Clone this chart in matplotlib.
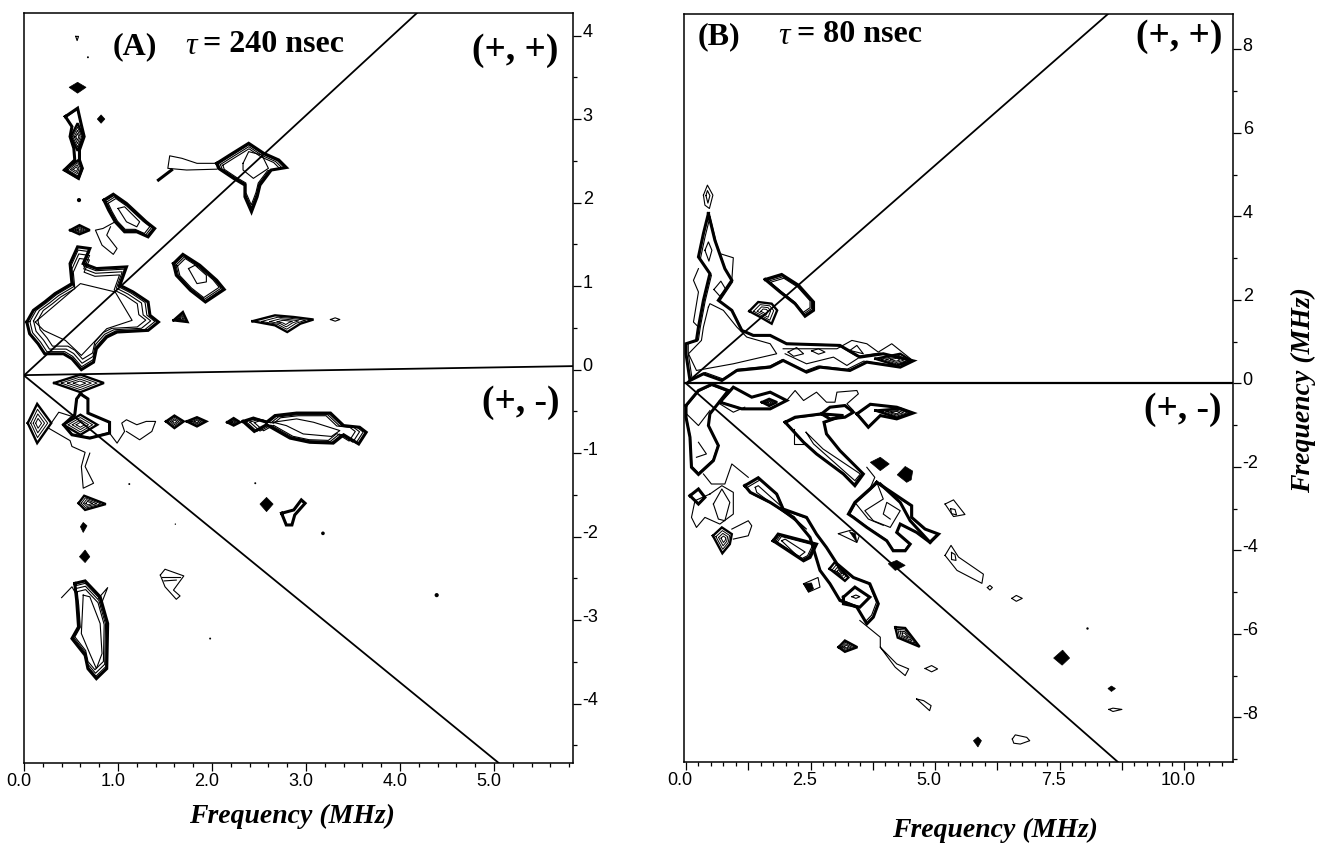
import numpy as np
import matplotlib
matplotlib.use("Agg")
import matplotlib.pyplot as plt
from matplotlib.transforms import ScaledTranslation

W, H = 1318, 844
SERIF = "Liberation Serif"
SANS = "Liberation Sans"

# ---- panel A, tau = 240 nsec (MHz, MHz) ----
A_MAIN = [(0.03, 0.57), (0.10, 0.71), (0.22, 0.81), (0.33, 0.91), (0.51, 1.03), (0.49, 1.27), (0.57, 1.47),
          (0.70, 1.45), (0.63, 1.27), (0.77, 1.21), (1.09, 1.23), (1.02, 1.01), (1.16, 0.93), (1.32, 0.81),
          (1.34, 0.65), (1.43, 0.57), (1.32, 0.47), (0.99, 0.45), (0.88, 0.39), (0.77, 0.25), (0.74, 0.09),
          (0.61, 0.0), (0.51, 0.13), (0.42, 0.19), (0.22, 0.19), (0.15, 0.31), (0.06, 0.43)]
A_PEAK = [(2.05, 2.47), (2.19, 2.57), (2.39, 2.71), (2.55, 2.59), (2.71, 2.51), (2.79, 2.42), (2.63, 2.39),
          (2.51, 2.21), (2.48, 2.07), (2.42, 1.89), (2.35, 2.07), (2.35, 2.21), (2.23, 2.29), (2.07, 2.41)]
A_UPPER = [(0.85, 2.03), (0.95, 2.10), (1.09, 1.99), (1.30, 1.77), (1.39, 1.69), (1.32, 1.59), (1.20, 1.65),
           (1.07, 1.65), (0.97, 1.77), (0.90, 1.91)]
A_MID = [(1.59, 1.27), (1.69, 1.38), (1.87, 1.25), (2.05, 1.07), (2.13, 0.96), (1.93, 0.81), (1.77, 0.95), (1.62, 1.13)]
A_STREAK = [(2.33, -0.62), (2.44, -0.58), (2.58, -0.63), (2.67, -0.55), (2.90, -0.52), (3.26, -0.52), (3.40, -0.67),
            (3.57, -0.69), (3.64, -0.75), (3.56, -0.89), (3.40, -0.78), (3.29, -0.88), (3.04, -0.87), (2.83, -0.82),
            (2.58, -0.66), (2.45, -0.74)]
A_OVAL = [(0.54, -2.56), (0.65, -2.53), (0.81, -2.72), (0.89, -3.04), (0.88, -3.58), (0.77, -3.70), (0.68, -3.58),
          (0.65, -3.42), (0.51, -3.22), (0.58, -3.08), (0.56, -2.76)]
A_STACKED = [A_MAIN, A_PEAK, A_UPPER, A_MID, A_STREAK, A_OVAL]
A_PLAIN = [[(0.44, 3.03), (0.57, 3.13), (0.61, 2.93), (0.64, 2.79), (0.59, 2.63), (0.59, 2.51), (0.62, 2.41),
            (0.58, 2.29), (0.43, 2.39), (0.54, 2.51), (0.53, 2.65), (0.49, 2.79), (0.51, 2.91)],
           [(0.60, -0.29), (0.68, -0.35), (0.68, -0.52), (0.91, -0.63), (0.91, -0.76), (0.70, -0.82), (0.51, -0.78),
            (0.42, -0.66), (0.54, -0.54), (0.56, -0.35)],
           [(2.74, -1.72), (2.87, -1.68), (2.95, -1.56), (2.99, -1.60), (2.88, -1.74), (2.85, -1.86), (2.79, -1.86)]]
A_NESTED = [[(2.43, 0.58), (2.67, 0.65), (2.87, 0.63), (3.08, 0.60), (2.94, 0.55), (2.80, 0.45), (2.67, 0.53)],
            [(0.32, -0.16), (0.60, -0.06), (0.85, -0.16), (0.60, -0.27)],
            [(0.04, -0.64), (0.14, -0.41), (0.29, -0.64), (0.14, -0.88)],
            [(0.49, 1.67), (0.59, 1.73), (0.70, 1.67), (0.59, 1.62)],
            [(1.51, -0.62), (1.60, -0.55), (1.70, -0.62), (1.60, -0.70)],
            [(1.73, -0.62), (1.84, -0.57), (1.94, -0.62), (1.84, -0.68)],
            [(2.16, -0.63), (2.23, -0.58), (2.30, -0.63), (2.23, -0.67)],
            [(0.58, -1.60), (0.64, -1.51), (0.87, -1.61), (0.65, -1.68)],
            [(0.50, 2.79), (0.57, 2.95), (0.63, 2.79), (0.57, 2.62)],
            [(0.43, 2.39), (0.58, 2.51), (0.62, 2.41), (0.58, 2.29)],
            [(0.42, -0.66), (0.60, -0.54), (0.78, -0.66), (0.60, -0.78)],
            [(1.59, 0.59), (1.69, 0.69), (1.74, 0.57)]]
A_THIN = [[(0.12, 0.57), (0.35, 0.79), (0.60, 1.03), (0.97, 0.93), (1.15, 0.59), (0.88, 0.49), (0.61, 0.17),
           (0.44, 0.35), (0.21, 0.47), (0.12, 0.57)],
          [(2.33, 2.47), (2.39, 2.61), (2.53, 2.57), (2.60, 2.41), (2.44, 2.29), (2.33, 2.39), (2.33, 2.47)],
          [(2.05, 2.47), (1.84, 2.47), (1.68, 2.53), (1.55, 2.56), (1.53, 2.41), (1.73, 2.39), (2.05, 2.40)],
          [(1.00, 1.93), (1.07, 1.95), (1.23, 1.77), (1.20, 1.71), (1.09, 1.77), (1.00, 1.93)],
          [(0.97, 1.77), (0.84, 1.69), (0.76, 1.67), (0.83, 1.49), (0.95, 1.38), (0.99, 1.45), (0.88, 1.61), (0.92, 1.71)],
          [(1.75, 1.21), (1.82, 1.25), (1.94, 1.13), (1.94, 1.05), (1.84, 1.03), (1.75, 1.21)],
          [(3.26, 0.60), (3.31, 0.62), (3.36, 0.60), (3.31, 0.58), (3.26, 0.60)],
          [(0.29, -0.64), (0.37, -0.51), (0.51, -0.56)],
          [(0.26, -0.70), (0.49, -0.85), (0.51, -0.92), (0.65, -0.99), (0.61, -1.16), (0.63, -1.42), (0.74, -1.36),
           (0.65, -1.16), (0.70, -1.00)],
          [(0.91, -0.76), (0.99, -0.88), (1.07, -0.74), (1.04, -0.64), (1.09, -0.60), (1.20, -0.66), (1.30, -0.62),
           (1.40, -0.62), (1.36, -0.74), (1.23, -0.84), (1.09, -0.74)],
          [(2.65, -0.63), (2.90, -0.59), (3.08, -0.63), (3.36, -0.73), (3.27, -0.80), (2.97, -0.77), (2.79, -0.67), (2.65, -0.63)],
          [(1.45, -2.46), (1.50, -2.39), (1.70, -2.47), (1.59, -2.64), (1.66, -2.71), (1.62, -2.75), (1.50, -2.60), (1.45, -2.46)],
          [(1.47, -2.48), (1.66, -2.48)], [(1.49, -2.53), (1.62, -2.52)],
          [(0.63, -2.70), (0.70, -2.72), (0.81, -3.04), (0.83, -3.40), (0.77, -3.58), (0.70, -3.40), (0.61, -3.16), (0.63, -2.70)],
          [(0.40, -2.73), (0.51, -2.60), (0.56, -2.70)],
          [(0.79, -2.74), (0.89, -2.61), (0.81, -2.84)],
          [(0.55, 3.99), (0.58, 3.99), (0.565, 3.94), (0.55, 3.99)]]
A_FILLED = [[(0.48, 3.38), (0.57, 3.44), (0.66, 3.38), (0.57, 3.31)],
            [(2.51, -1.61), (2.58, -1.53), (2.65, -1.61), (2.58, -1.70)],
            [(0.60, -1.88), (0.63, -1.83), (0.67, -1.87), (0.63, -1.95)],
            [(0.59, -2.24), (0.65, -2.16), (0.70, -2.24), (0.65, -2.31)],
            [(0.78, 3.00), (0.82, 3.05), (0.86, 3.00), (0.82, 2.95)]]
A_THICK_LINE = [[(1.57, 2.39), (1.43, 2.27)]]
A_DOTS_X = [0.68, 0.585, 1.12, 1.61, 1.98, 2.46, 3.18, 4.39]
A_DOTS_Y = [3.74, 2.03, -1.37, -1.85, -3.22, -1.36, -1.96, -2.70]
A_DOTS_S = [2, 9, 2, 1, 2, 2, 7, 9]
A_DIAG_X = [4.18, 0.0, 5.05]
A_DIAG_Y = [4.27, -0.07, -4.71]
A_ZERO_X = [0.0, 5.84]
A_ZERO_Y = [-0.066, 0.042]

# ---- panel B, tau = 80 nsec ----
B_UPPER = [(0.45, 4.07), (0.35, 3.59), (0.25, 3.03), (0.48, 2.63), (0.35, 1.99), (0.25, 1.35), (0.21, 1.03), (0.0, 0.95),
           (0.0, 0.71), (0.08, 0.07), (0.35, 0.23), (0.72, 0.07), (1.02, 0.31), (1.69, 0.39), (1.95, 0.55), (2.42, 0.27),
           (2.69, 0.39), (3.29, 0.31), (3.63, 0.51), (4.30, 0.39), (4.56, 0.54), (3.96, 0.71), (3.49, 0.63), (3.09, 0.91),
           (2.02, 0.95), (1.69, 1.15), (1.35, 1.15), (1.12, 1.27), (0.92, 1.75), (0.65, 1.99), (0.92, 2.47), (0.78, 2.75),
           (0.58, 3.43)]
B_RUN = [(1.99, -0.93), (2.36, -1.41), (2.62, -1.69), (3.16, -2.17), (3.39, -2.45), (3.56, -2.17), (3.09, -1.61),
         (2.82, -1.21), (2.77, -0.93), (3.16, -0.77), (2.72, -0.73), (2.46, -0.77), (2.19, -0.81)]
B_LATTICE = [(3.83, -2.37), (4.23, -2.69), (4.53, -2.93), (4.53, -3.21), (4.80, -3.49), (5.07, -3.61), (4.90, -3.81),
             (4.63, -3.57), (4.30, -3.37), (4.23, -3.57), (4.50, -3.85), (4.40, -4.01), (4.16, -4.01), (4.03, -3.77),
             (3.63, -3.45), (3.36, -3.21), (3.26, -3.13), (3.39, -2.85), (3.69, -2.53)]
B_LEFT = [(0, -0.53), (0.25, -0.17), (0.52, -0.02), (0.85, -0.17), (0.48, -0.73), (0.45, -1.01), (0.65, -1.49),
          (0.55, -1.85), (0.25, -2.18), (0.11, -2.01), (0.08, -1.29), (0, -0.81)]
B_LONG = [(1.18, -2.45), (1.45, -2.26), (1.82, -2.65), (1.95, -3.01), (2.42, -3.21), (2.62, -3.61), (2.82, -3.93),
          (3.03, -4.32), (3.36, -4.65), (3.69, -4.80), (3.86, -5.28), (3.76, -5.60), (3.63, -5.76), (3.43, -5.36),
          (3.09, -5.20), (2.89, -4.80), (2.69, -4.48), (2.49, -3.69), (2.16, -3.21), (1.69, -2.85), (1.29, -2.61)]
B_TAIL = [(3.43, -0.73), (3.70, -0.50), (4.23, -0.57), (4.56, -0.71), (4.23, -0.85), (3.90, -0.77), (3.66, -1.05)]
B_PLAIN = [B_UPPER, B_RUN, B_LATTICE, B_LEFT, B_LONG, B_TAIL,
           [(0.68, -0.45), (0.95, -0.09), (1.32, -0.33), (1.69, -0.21), (2.02, -0.41), (1.69, -0.61), (1.12, -0.61)],
           [(2.72, -0.73), (2.89, -0.57), (3.19, -0.53), (3.36, -0.69), (3.19, -0.81), (2.89, -0.85)],
           [(3.16, -5.12), (3.39, -4.88), (3.69, -5.12), (3.49, -5.36), (3.16, -5.28)],
           [(0.08, -2.69), (0.25, -2.53), (0.38, -2.73), (0.25, -2.89)]]
B_STACKED = [[(1.59, 2.49), (1.92, 2.61), (2.26, 2.35), (2.56, 1.95), (2.56, 1.75), (2.39, 1.61), (2.19, 1.91), (1.89, 2.19)],
             [(1.75, -3.77), (1.85, -3.61), (2.62, -3.85), (2.49, -4.17), (2.36, -4.25)]]
B_NESTED = [[(1.27, 1.73), (1.45, 1.95), (1.72, 1.91), (1.83, 1.75), (1.72, 1.43), (1.49, 1.59)],
            [(1.52, -0.45), (1.67, -0.37), (1.83, -0.45), (1.67, -0.54)],
            [(0.54, -3.65), (0.72, -3.45), (0.92, -3.61), (0.88, -3.85), (0.73, -4.07)],
            [(4.20, -5.84), (4.40, -5.86), (4.69, -6.31), (4.25, -6.09)],
            [(3.06, -6.32), (3.19, -6.16), (3.44, -6.32), (3.19, -6.43)],
            [(3.80, -0.65), (4.30, -0.60), (4.53, -0.71), (4.23, -0.82)],
            [(3.80, 0.59), (4.30, 0.71), (4.53, 0.54), (4.23, 0.43)],
            [(2.88, -4.44), (2.99, -4.28), (3.26, -4.65), (3.19, -4.73)]]
B_THIN = [[(0.45, 1.83), (0.35, 1.35), (0.31, 1.03), (0.05, 0.71), (0.21, 0.31), (0.95, 0.47), (1.82, 0.71), (1.69, 0.95),
           (1.22, 1.11), (1.02, 1.35), (0.75, 1.75), (0.48, 1.91), (0.45, 1.83)],
          [(1.95, 0.83), (3.03, 0.83), (3.33, 1.03), (3.63, 0.95), (3.86, 0.75), (4.13, 0.95), (4.56, 0.54)],
          [(2.05, 0.75), (2.22, 0.86), (2.36, 0.71), (2.16, 0.65), (2.05, 0.75)],
          [(2.52, 0.78), (2.66, 0.83), (2.79, 0.75), (2.66, 0.70), (2.52, 0.78)],
          [(1.99, 0.71), (2.42, 0.47), (2.96, 0.63), (3.23, 0.43), (3.49, 0.63)],
          [(3.29, 0.79), (3.43, 0.91), (3.56, 0.71), (3.29, 0.79)],
          [(0.35, 4.51), (0.43, 4.75), (0.54, 4.51), (0.47, 4.19), (0.38, 4.27), (0.35, 4.51)],
          [(0.40, 4.50), (0.43, 4.62), (0.48, 4.50), (0.44, 4.32), (0.40, 4.50)],
          [(0.38, 3.19), (0.45, 3.39), (0.52, 3.19), (0.46, 2.93), (0.38, 3.19)],
          [(0.56, 2.25), (0.70, 2.45), (0.80, 2.25), (0.68, 2.09), (0.56, 2.25)],
          [(0.25, 2.75), (0.15, 2.47), (0.25, 2.19), (0.15, 1.47), (0.25, 1.35)],
          [(0.68, 3.11), (0.95, 3.01), (0.92, 2.47)],
          [(2.02, -0.41), (2.19, -0.17), (2.36, -0.41), (2.62, -0.21), (2.82, -0.45), (2.99, -0.45), (3.03, -0.21),
           (3.43, -0.17), (3.46, -0.25), (3.23, -0.49), (3.36, -0.65)],
          [(2.17, -1.09), (2.17, -1.45), (2.42, -1.45)],
          [(2.41, -1.17), (2.75, -1.57), (3.50, -2.17), (3.39, -2.33), (2.56, -1.45), (2.41, -1.17)],
          [(3.63, -2.01), (3.79, -2.25), (3.69, -2.53)],
          [(3.83, -2.37), (3.96, -2.77), (3.59, -3.05), (3.76, -3.29), (4.10, -3.45), (4.30, -3.05), (4.03, -2.85),
           (3.96, -3.13), (4.10, -3.25)],
          [(3.39, -2.85), (3.66, -3.25), (3.96, -3.40)],
          [(5.20, -2.89), (5.37, -2.79), (5.60, -3.14), (5.37, -3.19), (5.20, -2.89)],
          [(5.31, -3.00), (5.40, -3.02), (5.43, -3.15), (5.33, -3.12), (5.31, -3.00)],
          [(5.20, -4.12), (5.32, -3.88), (5.47, -4.16), (5.97, -4.57), (5.94, -4.79), (5.44, -4.48), (5.20, -4.12)],
          [(5.33, -4.05), (5.40, -4.10), (5.42, -4.24), (5.33, -4.22), (5.33, -4.05)],
          [(0.01, -0.73), (0.25, -1.01), (0.48, -0.65)],
          [(0.25, -1.41), (0.41, -1.69), (0.21, -1.77)],
          [(0.35, -2.17), (0.51, -2.41), (0.78, -2.41), (0.92, -1.93), (1.25, -2.25)],
          [(0.68, -0.49), (0.95, -0.69), (1.18, -0.57)],
          [(0.55, -2.89), (0.72, -2.53), (0.88, -2.85), (0.78, -3.29), (0.65, -3.25), (0.55, -2.89)],
          [(0.48, -2.65), (0.72, -2.45), (0.95, -2.61), (0.95, -3.13), (0.68, -3.37), (0.38, -3.21), (0.21, -3.45),
           (0.11, -3.21), (0.18, -2.81), (0.48, -2.65)],
          [(0.92, -3.49), (1.25, -3.29), (1.32, -3.41), (1.25, -3.65), (0.95, -3.73)],
          [(1.39, -2.49), (1.45, -2.45), (2.42, -3.49), (1.42, -2.61), (1.39, -2.49)],
          [(3.33, -5.11), (3.41, -5.07), (3.49, -5.11), (3.41, -5.15), (3.33, -5.11)],
          [(1.92, -3.77), (1.99, -3.73), (2.39, -4.04), (2.26, -4.16), (1.92, -3.77)],
          [(2.36, -4.80), (2.65, -4.65), (2.69, -4.88), (2.46, -5.00), (2.36, -4.80)],
          [(3.06, -3.60), (3.33, -3.51), (3.48, -3.65), (3.43, -3.81), (3.06, -3.60)],
          [(3.49, -5.68), (3.90, -6.08), (3.90, -6.32), (4.23, -6.72), (4.47, -6.84), (4.40, -7.00), (4.20, -6.80), (3.90, -6.32)],
          [(4.80, -6.83), (4.93, -6.76), (5.05, -6.84), (4.93, -6.91), (4.80, -6.83)],
          [(4.63, -7.56), (4.77, -7.60), (4.92, -7.72), (4.89, -7.84), (4.63, -7.56)],
          [(6.55, -8.52), (6.61, -8.42), (6.84, -8.48), (6.90, -8.56), (6.71, -8.64), (6.58, -8.62), (6.55, -8.52)],
          [(6.05, -4.89), (6.10, -4.84), (6.15, -4.89), (6.10, -4.95), (6.05, -4.89)],
          [(6.54, -5.15), (6.63, -5.08), (6.75, -5.15), (6.63, -5.22), (6.54, -5.15)],
          [(8.49, -7.81), (8.57, -7.78), (8.75, -7.81), (8.57, -7.86), (8.49, -7.81)]]
B_FILLED = [[(3.70, -1.89), (3.90, -1.77), (4.08, -1.93), (3.90, -2.09)],
            [(4.24, -2.19), (4.40, -1.99), (4.55, -2.10), (4.52, -2.31), (4.43, -2.37)],
            [(2.36, -4.80), (2.52, -4.78), (2.56, -4.92), (2.46, -5.00)],
            [(3.28, -3.55), (3.40, -3.60), (3.43, -3.81)],
            [(4.06, -4.32), (4.23, -4.24), (4.40, -4.36), (4.20, -4.48)],
            [(5.77, -8.56), (5.86, -8.47), (5.93, -8.56), (5.86, -8.71)],
            [(7.38, -6.58), (7.56, -6.39), (7.70, -6.58), (7.55, -6.75)],
            [(8.47, -7.31), (8.54, -7.25), (8.62, -7.31), (8.54, -7.38)]]
B_THICK_LINE = [[(3.90, -2.41), (4.30, -2.85), (4.50, -3.29), (4.90, -3.81)]]
B_DOTS_X = [8.05]
B_DOTS_Y = [-5.85]
B_DOTS_S = [3]
B_DIAG_X = [8.47, 0.0, 8.67]
B_DIAG_Y = [8.85, 0.0, -9.07]
B_ZERO_X = [-0.04, 10.98]
B_ZERO_Y = [0.0, 0.0]

A_XTICKS = [0, 1, 2, 3, 4, 5]
A_XLABELS = ["0.0", "1.0", "2.0", "3.0", "4.0", "5.0"]
A_YTICKS = [-4, -3, -2, -1, 0, 1, 2, 3, 4]
A_YLABELS = ["-4", "-3", "-2", "-1", "0", "1", "2", "3", "4"]
B_XTICKS = [0, 1.25, 2.5, 3.75, 5, 6.25, 7.5, 8.75, 10]
B_XLABELS = ["0.0", "", "2.5", "", "5.0", "", "7.5", "", "10.0"]
B_YTICKS = [-8, -6, -4, -2, 0, 2, 4, 6, 8]
B_YLABELS = ["-8", "-6", "-4", "-2", "0", "2", "4", "6", "8"]


def rings(pts, factors):
    # nested copies of an outline, pulled in toward its centre
    p = np.array(pts + [pts[0]], dtype=float)
    c = p[:-1].mean(axis=0)
    return [c + (p - c) * f for f in factors]


def draw(ax, stacked, plain, nested, thin, filled, lines):
    for pts in stacked:
        p = rings(pts, [1.0])[0]
        ax.plot(p[:, 0], p[:, 1], color="k", lw=2.2, solid_joinstyle="miter")
        for q in rings(pts, [0.95, 0.89, 0.82]):
            ax.plot(q[:, 0], q[:, 1], color="k", lw=0.8)
    for pts in plain:
        p = rings(pts, [1.0])[0]
        ax.plot(p[:, 0], p[:, 1], color="k", lw=2.2, solid_joinstyle="miter")
        for q in rings(pts, [0.97]):
            ax.plot(q[:, 0], q[:, 1], color="k", lw=0.8)
    for pts in nested:
        p = rings(pts, [1.0])[0]
        ax.plot(p[:, 0], p[:, 1], color="k", lw=1.7, solid_joinstyle="miter")
        for q in rings(pts, [0.72, 0.48, 0.25]):
            ax.plot(q[:, 0], q[:, 1], color="k", lw=0.7)
    for pts in thin:
        p = np.array(pts)
        ax.plot(p[:, 0], p[:, 1], color="k", lw=0.8)
    for pts in filled:
        p = np.array(pts)
        ax.fill(p[:, 0], p[:, 1], color="k", lw=0.5)
    for pts in lines:
        p = np.array(pts)
        ax.plot(p[:, 0], p[:, 1], color="k", lw=2.2)


def make_axes(fig, left, right, top, bottom):
    return fig.add_axes([left / W, 1 - bottom / H, (right - left) / W, (bottom - top) / H])


def style(ax, xlim, ylim, xt, xl, yt, yl, xminor, yminor, shift):
    ax.set_xlim(*xlim)
    ax.set_ylim(*ylim)
    ax.set_xticks(xt, xl)
    ax.set_yticks(yt, yl)
    ax.set_xticks(xminor, minor=True)
    ax.set_yticks(yminor, minor=True)
    ax.yaxis.tick_right()
    ax.tick_params(axis="both", which="major", length=6, width=0.9, pad=1, labelsize=13)
    ax.tick_params(axis="both", which="minor", length=3, width=0.9)
    xoff = ScaledTranslation(shift / 100, 0, fig.dpi_scale_trans)
    yoff = ScaledTranslation(0, 5 / 100, fig.dpi_scale_trans)
    for lab in ax.get_xticklabels():
        lab.set_fontfamily(SANS)
        lab.set_transform(lab.get_transform() + xoff)
    for lab in ax.get_yticklabels():
        lab.set_fontfamily(SANS)
        lab.set_transform(lab.get_transform() + yoff)
    for s in ax.spines.values():
        s.set_linewidth(1.1)


def put(x, y, s, **kw):
    fig.text(x / W, 1 - y / H, s, family=SERIF, **kw)


fig = plt.figure(figsize=(W / 100, H / 100), dpi=100)

ax1 = make_axes(fig, 24, 573, 13, 763)
draw(ax1, A_STACKED, A_PLAIN, A_NESTED, A_THIN, A_FILLED, A_THICK_LINE)
ax1.scatter(A_DOTS_X, A_DOTS_Y, s=A_DOTS_S, color="k", lw=0)
ax1.plot(A_DIAG_X, A_DIAG_Y, color="k", lw=1.3)
ax1.plot(A_ZERO_X, A_ZERO_Y, color="k", lw=1.3)
style(ax1, (0, 5.84), (-4.71, 4.27), A_XTICKS, A_XLABELS, A_YTICKS, A_YLABELS,
      [i * 0.2 for i in range(30)], [i * 0.5 - 4.5 for i in range(18)], -5)

ax2 = make_axes(fig, 684, 1233, 14, 762)
draw(ax2, B_STACKED, B_PLAIN, B_NESTED, B_THIN, B_FILLED, B_THICK_LINE)
ax2.scatter(B_DOTS_X, B_DOTS_Y, s=B_DOTS_S, color="k", lw=0)
ax2.plot(B_DIAG_X, B_DIAG_Y, color="k", lw=1.3)
ax2.plot(B_ZERO_X, B_ZERO_Y, color="k", lw=1.6)
style(ax2, (-0.04, 10.98), (-9.07, 8.85), B_XTICKS, B_XLABELS, B_YTICKS, B_YLABELS,
      [i * 0.25 for i in range(44)], [i - 9 for i in range(18)], -6)

# panel titles and quadrant marks
put(113, 47, "(A)", fontsize=23, fontweight="bold", ha="left", va="center")
put(185, 47, "\u03c4", fontsize=23, style="italic", ha="left", va="center")
put(203, 45, "= 240 nsec", fontsize=23, fontweight="bold", ha="left", va="center")
put(558, 50, "(+, +)", fontsize=27, fontweight="bold", ha="right", va="center")
put(560, 402, "(+, -)", fontsize=27, fontweight="bold", ha="right", va="center")
put(698, 37, "(B)", fontsize=23, fontweight="bold", ha="left", va="center")
put(778, 37, "\u03c4", fontsize=23, style="italic", ha="left", va="center")
put(797, 35, "= 80 nsec", fontsize=23, fontweight="bold", ha="left", va="center")
put(1222, 37, "(+, +)", fontsize=27, fontweight="bold", ha="right", va="center")
put(1222, 410, "(+, -)", fontsize=27, fontweight="bold", ha="right", va="center")

# axis labels
label_kw = dict(fontsize=20, fontweight="bold", style="italic", ha="center", va="center")
put(292, 816, "Frequency (MHz)", **label_kw)
put(995, 830, "Frequency (MHz)", **label_kw)
put(1303, 390, "Frequency (MHz)", rotation=90, **label_kw)

fig.savefig("out.png", dpi=100)
